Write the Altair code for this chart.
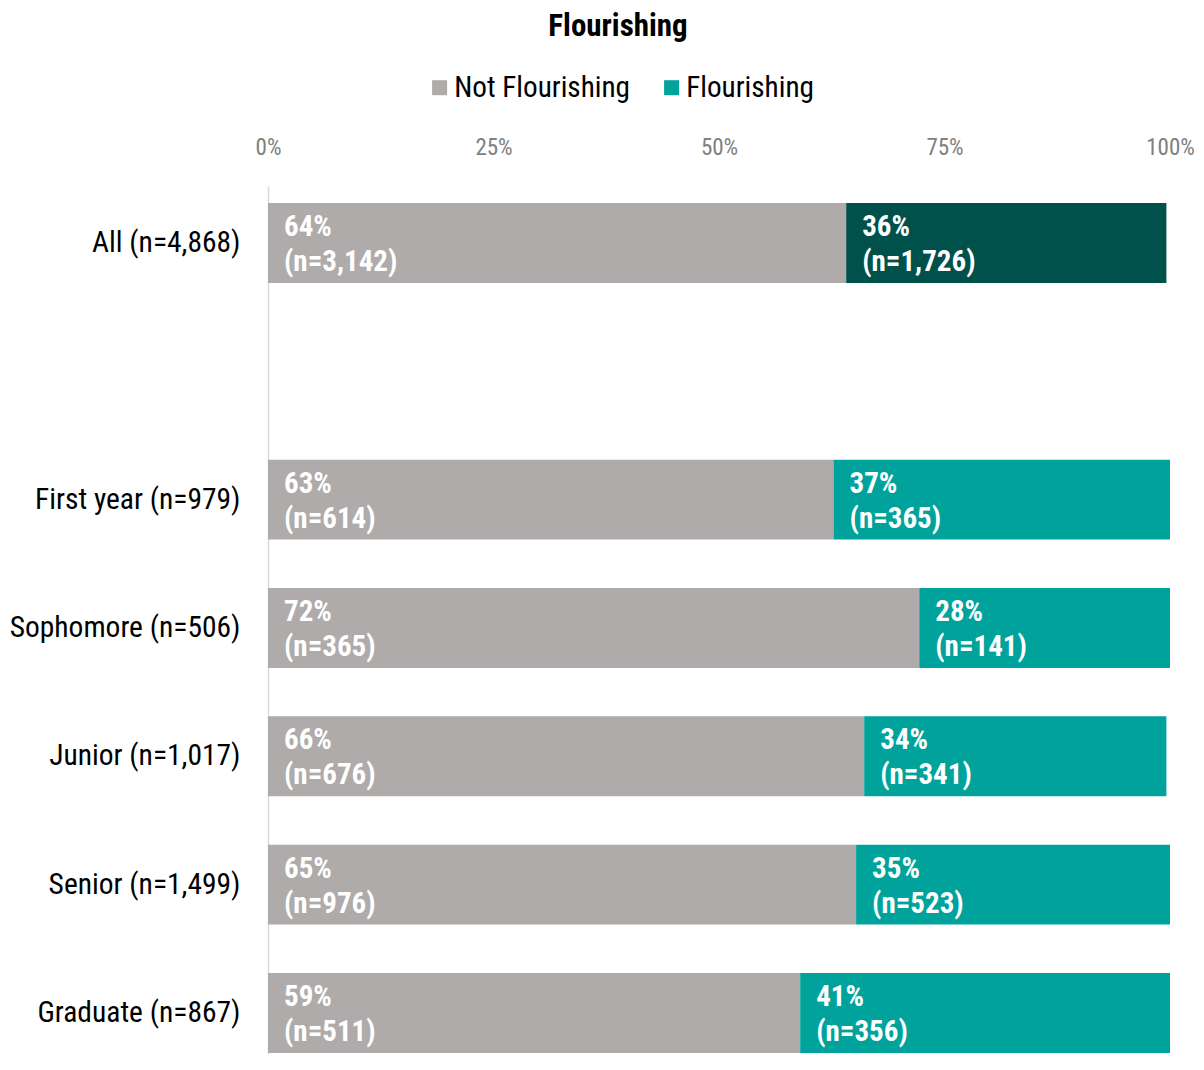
import altair as alt
import pandas as pd

groups = ["All (n=4,868)", "First year (n=979)", "Sophomore (n=506)",
          "Junior (n=1,017)", "Senior (n=1,499)", "Graduate (n=867)"]
not_pct = [64.1, 62.7, 72.2, 66.1, 65.2, 59.0]
flo_pct = [35.5, 37.3, 27.8, 33.5, 34.8, 41.0]
not_label = ["64%", "63%", "72%", "66%", "65%", "59%"]
flo_label = ["36%", "37%", "28%", "34%", "35%", "41%"]
not_n = ["(n=3,142)", "(n=614)", "(n=365)", "(n=676)", "(n=976)", "(n=511)"]
flo_n = ["(n=1,726)", "(n=365)", "(n=141)", "(n=341)", "(n=523)", "(n=356)"]

rows = []
for i, g in enumerate(groups):
    rows.append(dict(group=g, status="Not Flourishing", colorkey="Not Flourishing",
                     start=0.0, end=not_pct[i], pct=not_label[i], n=not_n[i]))
    rows.append(dict(group=g, status="Flourishing",
                     colorkey="Flourishing (All)" if i == 0 else "Flourishing",
                     start=not_pct[i], end=not_pct[i] + flo_pct[i],
                     pct=flo_label[i], n=flo_n[i]))
df = pd.DataFrame(rows)

y_domain = [groups[0], " "] + groups[1:]
FONT = "Roboto Condensed, Liberation Sans Narrow, Roboto, sans-serif"

y = alt.Y("group:N", scale=alt.Scale(domain=y_domain, paddingInner=0.377,
                                      paddingOuter=0.0705, align=0.94),
          axis=alt.Axis(title=None, ticks=False, labelFontSize=29.5, labelColor="#000000",
                        labelFont=FONT, labelPadding=28, domainColor="#d9d9d9",
                        domainWidth=1.5, labelLimit=400))
x = alt.X("start:Q", scale=alt.Scale(domain=[0, 100], nice=False),
          axis=alt.Axis(orient="top", title=None, values=[0, 25, 50, 75, 100],
                        labelExpr="datum.value + '%'", ticks=False, domain=False,
                        grid=False, labelFontSize=23, labelColor="#808080",
                        labelFont=FONT, labelPadding=27, labelFlush=False,
                        labelOverlap=False))

bars = alt.Chart(df).mark_bar(cornerRadius=0).encode(
    y=y, x=x, x2="end:Q",
    color=alt.Color("colorkey:N",
                    scale=alt.Scale(domain=["Not Flourishing", "Flourishing", "Flourishing (All)"],
                                    range=["#aeabaa", "#00a39b", "#00514c"]),
                    legend=alt.Legend(values=["Not Flourishing", "Flourishing"], title=None,
                                      orient="none", direction="horizontal",
                                      legendX=157, legendY=-113,
                                      symbolType="square", symbolSize=225,
                                      symbolStrokeWidth=0, labelLimit=400,
                                      labelFontSize=29.2, labelFont=FONT, labelColor="#000000",
                                      columnPadding=27, labelOffset=0, symbolOpacity=1)),
)

pct_text = alt.Chart(df).mark_text(align="left", baseline="middle", dx=16, dy=-16,
                                   fontSize=29, fontWeight="bold", color="white",
                                   font=FONT).encode(
    y=alt.Y("group:N", scale=alt.Scale(domain=y_domain)), x="start:Q", text="pct:N")
n_text = alt.Chart(df).mark_text(align="left", baseline="middle", dx=16, dy=19,
                                 fontSize=29, fontWeight="bold", color="white",
                                 font=FONT).encode(
    y=alt.Y("group:N", scale=alt.Scale(domain=y_domain)), x="start:Q", text="n:N")

chart = alt.layer(bars, pct_text, n_text).properties(
    width=902, height=868,
    autosize=alt.AutoSizeParams(type="none"),
    padding={"left": 260, "top": 178, "right": 26, "bottom": 0},
    title=alt.Title("Flourishing", fontSize=31, fontWeight="bold", font=FONT,
                    color="#000000", anchor="middle", dx=-101, offset=30),
).configure_view(stroke=None)

chart.save("out.html", embed_options={"renderer": "svg", "actions": False})
